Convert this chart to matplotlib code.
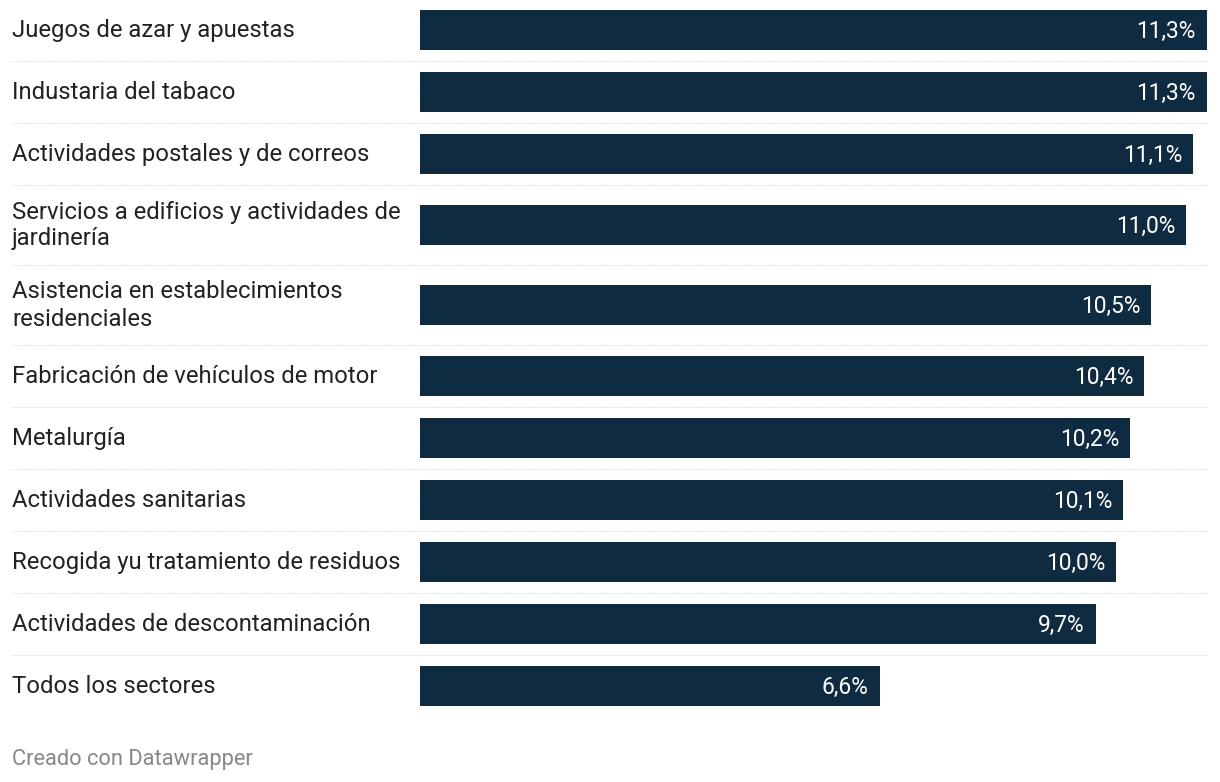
import textwrap
import matplotlib
matplotlib.use("Agg")
import matplotlib.pyplot as plt
from matplotlib.transforms import blended_transform_factory

categories = [
    "Juegos de azar y apuestas",
    "Industaria del tabaco",
    "Actividades postales y de correos",
    "Servicios a edificios y actividades de jardinería",
    "Asistencia en establecimientos residenciales",
    "Fabricación de vehículos de motor",
    "Metalurgía",
    "Actividades sanitarias",
    "Recogida yu tratamiento de residuos",
    "Actividades de descontaminación",
    "Todos los sectores",
]
values = [11.3, 11.3, 11.1, 11.0, 10.5, 10.4, 10.2, 10.1, 10.0, 9.7, 6.6]
footer = "Creado con Datawrapper"

W, H = 1220, 782
DPI = 100
BAR_COLOR = "#0f2b42"
TEXT_COLOR = "#222222"
FONT = "Roboto"
FS = 17.2
FS_VAL = 16.4

fig = plt.figure(figsize=(W / DPI, H / DPI), dpi=DPI)
fig.patch.set_facecolor("white")

x0_px, x1_px = 420, 1207
ax = fig.add_axes([x0_px / W, 0, (x1_px - x0_px) / W, 1])
ax.set_xlim(0, max(values))
ax.set_ylim(H, 0)
ax.axis("off")

# row layout (pixel units on y)
single_h, double_h = 62, 80
wrapped = [textwrap.wrap(c, 38) for c in categories]
centers, bounds = [], []
y = -1
for lines in wrapped:
    h = single_h if len(lines) == 1 else double_h
    centers.append(y + h / 2)
    y += h
    bounds.append(y)

ax.barh(centers, values, height=39.5, color=BAR_COLOR, linewidth=0)

trans_lbl = blended_transform_factory(fig.transFigure, ax.transData)
line_h = 27
for c, lines, v in zip(centers, wrapped, values):
    n = len(lines)
    for i, ln in enumerate(lines):
        base = c + 7 - (n - 1) * line_h / 2 + i * line_h
        ax.text(12 / W, base, ln, transform=trans_lbl, ha="left",
                va="baseline", fontsize=FS, family=FONT, color=TEXT_COLOR)
    ax.annotate(f"{v:.1f}%".replace(".", ","), xy=(v, c + 8), xytext=(-11, 0),
                textcoords="offset pixels", ha="right", va="baseline",
                fontsize=FS_VAL, family=FONT, color="white")

span = x1_px - x0_px
for b in bounds[:-1]:
    ax.axhline(b, xmin=(12 - x0_px) / span, xmax=(1208 - x0_px) / span,
               color="#cccccc", lw=0.72, dashes=(1, 2), clip_on=False)

fig.text(12 / W, 1 - 760 / H, footer, ha="left", va="center", fontsize=15.75,
         family=FONT, color="#888888")

fig.savefig("out.png", dpi=DPI, facecolor="white")
